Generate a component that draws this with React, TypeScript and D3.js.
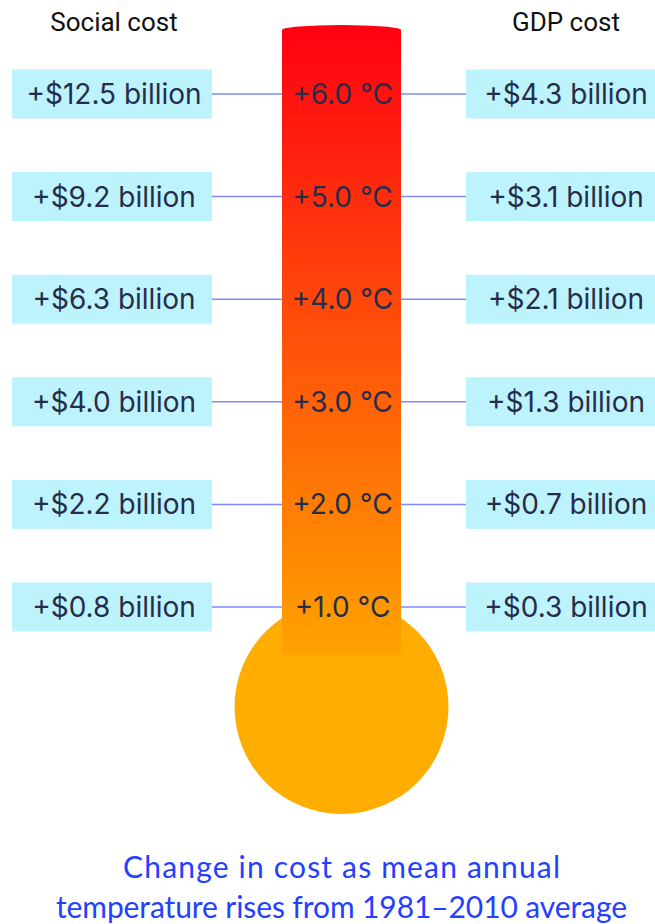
import React from "react";
import * as d3 from "d3";

const temps = [6, 5, 4, 3, 2, 1];
const tempLabels = ["+6.0 °C", "+5.0 °C", "+4.0 °C", "+3.0 °C", "+2.0 °C", "+1.0 °C"];
const socialCost = ["+$12.5 billion", "+$9.2 billion", "+$6.3 billion", "+$4.0 billion", "+$2.2 billion", "+$0.8 billion"];
const gdpCost = ["+$4.3 billion", "+$3.1 billion", "+$2.1 billion", "+$1.3 billion", "+$0.7 billion", "+$0.3 billion"];
const headers = ["Social cost", "GDP cost"];
const titleLines = ["Change in cost as mean annual", "temperature rises from 1981–2010 average"];

export default function App() {
  const W = 655, H = 924;
  const y = d3.scaleLinear().domain([1, 6]).range([607, 94]);
  const tubeL = 282, tubeR = 401, tubeTop = 30, tubeBot = 655;
  const cx = (tubeL + tubeR) / 2;
  const boxW = 200, boxH = 49;
  const leftX = 12, rightX = 466;
  const labelFont = "Inter, 'Noto Sans', sans-serif";
  const titleWidths = [437, 571];
  const tubePath = `M${tubeL},${tubeBot} L${tubeL},${tubeTop} A${(tubeR - tubeL) / 2},5 0 0 1 ${tubeR},${tubeTop} L${tubeR},${tubeBot} Z`;
  return (
    <svg width={W} height={H} style={{ position: "absolute", left: 0, top: 0, display: "block" }}>
      <defs>
        <linearGradient id="tubeGrad" gradientUnits="userSpaceOnUse" x1="0" y1={tubeTop - 5} x2="0" y2={tubeBot}>
          <stop offset="0" stopColor="#ff0012" />
          <stop offset="1" stopColor="#ffa300" />
        </linearGradient>
      </defs>
      <rect width={W} height={H} fill="#ffffff" />
      {headers.map((h, i) => (
        <text key={h} x={i === 0 ? leftX + boxW / 2 + 2 : rightX + boxW / 2} y={31} textAnchor="middle"
          fontFamily="Roboto, sans-serif" fontSize={26} fill="#111">{h}</text>
      ))}
      {temps.map((t, i) => (
        <g key={t}>
          <line x1={leftX + boxW} x2={rightX} y1={y(t)} y2={y(t)} stroke="#7d8cff" strokeWidth={1.5} />
          <rect x={leftX} y={y(t) - boxH / 2} width={boxW} height={boxH} fill="#bdf3fd" />
          <rect x={rightX} y={y(t) - boxH / 2} width={boxW} height={boxH} fill="#bdf3fd" />
          <text x={leftX + boxW / 2 + 2} y={y(t)} dy="0.36em" textAnchor="middle" fontFamily={labelFont} fontSize={28} fill="#262d4a">{socialCost[i]}</text>
          <text x={rightX + boxW / 2} y={y(t)} dy="0.36em" textAnchor="middle" fontFamily={labelFont} fontSize={28} fill="#262d4a">{gdpCost[i]}</text>
        </g>
      ))}
      <circle cx={cx} cy={707} r={107} fill="#ffad00" />
      <path d={tubePath} fill="url(#tubeGrad)" />
      {temps.map((t, i) => (
        <text key={"t" + t} x={cx + 1} y={y(t)} dy="0.36em" textAnchor="middle" fontFamily={labelFont} fontSize={28} fill="#262d4a">{tempLabels[i]}</text>
      ))}
      {titleLines.map((l, i) => (
        <text key={l} x={cx} y={878 + i * 40} textAnchor="middle" fontFamily="Lato, 'Noto Sans', sans-serif" fontSize={30}
          textLength={titleWidths[i]} lengthAdjust="spacing" fill="#2340ff">{l}</text>
      ))}
    </svg>
  );
}
